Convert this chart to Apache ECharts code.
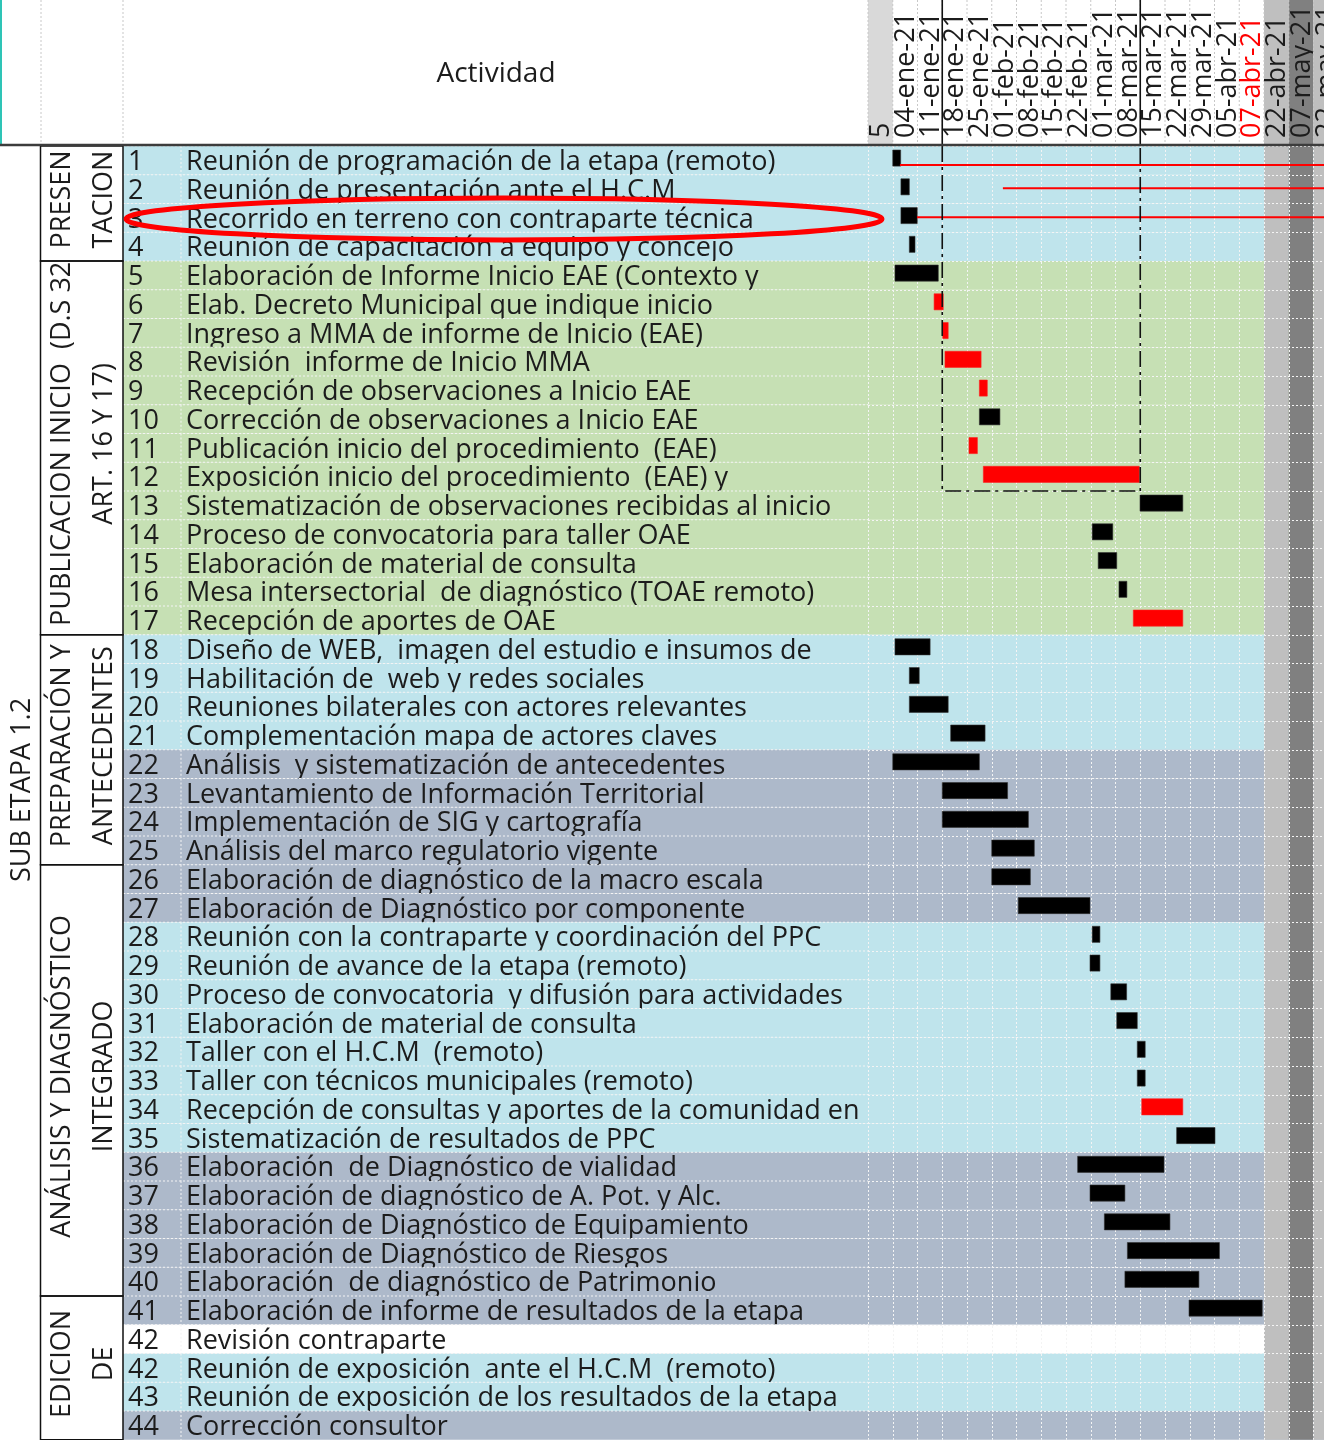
<!DOCTYPE html>
<html>
<head>
<meta charset="utf-8">
<title>Carta Gantt - Sub etapa 1.2</title>
<script src="https://cdn.jsdelivr.net/npm/echarts@6/dist/echarts.min.js"></script>
<style>
html, body { margin: 0; padding: 0; background: #fff; }
#gantt { width: 1324px; height: 1440px; }
</style>
</head>
<body>
<div id="gantt"></div>
<script>
// semanas del encabezado (una columna por semana)
var semanas = ['5', '04-ene-21', '11-ene-21', '18-ene-21', '25-ene-21', '01-feb-21', '08-feb-21',
	'15-feb-21', '22-feb-21', '01-mar-21', '08-mar-21', '15-mar-21', '22-mar-21', '29-mar-21',
	'05-abr-21', '07-abr-21', '22-abr-21', '07-may-21', '22-may-21'];

var numeros = ['1', '2', '3', '4', '5', '6', '7', '8', '9', '10', '11', '12', '13', '14', '15',
	'16', '17', '18', '19', '20', '21', '22', '23', '24', '25', '26', '27', '28', '29', '30',
	'31', '32', '33', '34', '35', '36', '37', '38', '39', '40', '41', '42', '42', '43', '44'];

var actividades = [
	'Reunión de programación de la etapa (remoto)',
	'Reunión de presentación ante el H.C.M',
	'Recorrido en terreno con contraparte técnica',
	'Reunión de capacitación a equipo y concejo',
	'Elaboración de Informe Inicio EAE (Contexto y',
	'Elab. Decreto Municipal que indique inicio',
	'Ingreso a MMA de informe de Inicio (EAE)',
	'Revisión  informe de Inicio MMA',
	'Recepción de observaciones a Inicio EAE',
	'Corrección de observaciones a Inicio EAE',
	'Publicación inicio del procedimiento  (EAE)',
	'Exposición inicio del procedimiento  (EAE) y',
	'Sistematización de observaciones recibidas al inicio',
	'Proceso de convocatoria para taller OAE',
	'Elaboración de material de consulta',
	'Mesa intersectorial  de diagnóstico (TOAE remoto)',
	'Recepción de aportes de OAE',
	'Diseño de WEB,  imagen del estudio e insumos de',
	'Habilitación de  web y redes sociales',
	'Reuniones bilaterales con actores relevantes',
	'Complementación mapa de actores claves',
	'Análisis  y sistematización de antecedentes',
	'Levantamiento de Información Territorial',
	'Implementación de SIG y cartografía',
	'Análisis del marco regulatorio vigente',
	'Elaboración de diagnóstico de la macro escala',
	'Elaboración de Diagnóstico por componente',
	'Reunión con la contraparte y coordinación del PPC',
	'Reunión de avance de la etapa (remoto)',
	'Proceso de convocatoria  y difusión para actividades',
	'Elaboración de material de consulta',
	'Taller con el H.C.M  (remoto)',
	'Taller con técnicos municipales (remoto)',
	'Recepción de consultas y aportes de la comunidad en',
	'Sistematización de resultados de PPC',
	'Elaboración  de Diagnóstico de vialidad',
	'Elaboración de diagnóstico de A. Pot. y Alc.',
	'Elaboración de Diagnóstico de Equipamiento',
	'Elaboración de Diagnóstico de Riesgos',
	'Elaboración  de diagnóstico de Patrimonio',
	'Elaboración de informe de resultados de la etapa',
	'Revisión contraparte',
	'Reunión de exposición  ante el H.C.M  (remoto)',
	'Reunión de exposición de los resultados de la etapa',
	'Corrección consultor'
];

// inicio y fin de cada barra, medido en semanas desde la columna "5"
var inicio = [1.00, 1.33, 1.33, 1.67, 1.09, 2.67, 3.02, 3.11, 4.50, 4.50, 4.08, 4.66, 10.99,
	9.06, 9.30, 10.14, 10.72, 1.09, 1.67, 1.67, 3.34, 1.00, 3.00, 3.00, 5.00, 5.00, 6.07,
	9.06, 8.97, 9.81, 10.05, 10.88, 10.88, 11.06, 12.47, 8.47, 8.97, 9.55, 10.48, 10.38, 12.97,
	null, null, null, null];
var fin = [1.32, 1.67, 1.99, 1.90, 2.84, 3.04, 3.24, 4.57, 4.82, 5.33, 4.42, 10.96, 12.72,
	9.89, 10.05, 10.46, 12.72, 2.51, 2.07, 3.24, 4.73, 4.50, 5.64, 6.48, 6.72, 6.56, 8.97,
	9.37, 9.37, 10.45, 10.88, 11.20, 11.20, 12.72, 14.02, 11.96, 10.38, 12.20, 14.20, 13.37, 15.93,
	null, null, null, null];
// 1 = actividad marcada en rojo
var critica = [0, 0, 0, 0, 0, 1, 1, 1, 1, 0, 1, 1, 0, 0, 0, 0, 1, 0, 0, 0, 0, 0, 0, 0, 0, 0,
	0, 0, 0, 0, 0, 0, 0, 1, 0, 0, 0, 0, 0, 0, 0, 0, 0, 0, 0];

// grupos de la columna izquierda: [desde fila, hasta fila, linea 1, linea 2]
var grupos = [
	[0, 4, 'PRESEN', 'TACION'],
	[4, 17, 'PUBLICACION INICIO  (D.S 32', 'ART. 16 Y 17)'],
	[17, 25, 'PREPARACIÓN Y', 'ANTECEDENTES'],
	[25, 40, 'ANÁLISIS Y DIAGNÓSTICO', 'INTEGRADO'],
	[40, 45, 'EDICION', 'DE']
];

// lineas rojas de seguimiento: [semana inicio, fila]
var flechas = [[1.29, 0.66], [5.45, 1.47], [1.98, 2.48]];
// recuadro punteado: [semana desde, semana hasta, fila hasta]
var recuadro = [[3, 11, 12]];

var FUENTE = '"Open Sans", sans-serif';
var TEXTO = '#1c1c1c';
var NSEM = semanas.length;
var NFILAS = actividades.length;

function colorFila(i) {
	if (i === 41) return '#ffffff';
	if (i >= 4 && i <= 16) return '#c6e0b4';
	if ((i >= 21 && i <= 26) || (i >= 35 && i <= 40) || i === 44) return '#adb9ca';
	return '#bfe4ec';
}

var punteado = { stroke: '#f4f4f4', lineWidth: 1, lineDash: [2, 2] };

var gantt = echarts.init(document.getElementById('gantt'));

var opcion = {
	animation: false,
	backgroundColor: '#ffffff',
	grid: {
		left: 868,
		top: 146,
		width: NSEM * 24.75,
		height: NFILAS * 28.75,
		outerBoundsMode: 'none'
	},
	xAxis: {
		type: 'value',
		min: 0,
		max: NSEM,
		interval: 1,
		z: 3,
		axisLine: { show: false },
		axisTick: { show: false },
		axisLabel: { show: false },
		splitLine: {
			show: true,
			lineStyle: { color: '#f4f4f4', width: 1, type: [2, 2] }
		}
	},
	yAxis: {
		type: 'value',
		inverse: true,
		min: 0,
		max: NFILAS,
		interval: 1,
		z: 3,
		axisLine: { show: false },
		axisTick: { show: false },
		axisLabel: { show: false },
		splitLine: {
			show: true,
			lineStyle: { color: '#f4f4f4', width: 1, type: [2, 2] }
		}
	},
	graphic: [
		// borde turquesa y linea bajo el encabezado
		{ type: 'line', z: 20, shape: { x1: 1, y1: 0, x2: 1, y2: 146 }, style: { stroke: '#2ec4b6', lineWidth: 2 } },
		{ type: 'line', z: 20, shape: { x1: 41, y1: 0, x2: 41, y2: 144 }, style: { stroke: '#c8c8c8', lineWidth: 1, lineDash: [2, 2] } },
		{ type: 'line', z: 20, shape: { x1: 123, y1: 0, x2: 123, y2: 144 }, style: { stroke: '#c8c8c8', lineWidth: 1, lineDash: [2, 2] } },
		{ type: 'line', z: 20, shape: { x1: 0, y1: 145, x2: 1324, y2: 145 }, style: { stroke: '#3c3c3c', lineWidth: 2.5 } },
		{
			type: 'text', z: 20, x: 496, y: 74,
			style: { text: 'Actividad', fontFamily: FUENTE, fontSize: 28, fill: TEXTO, align: 'center', verticalAlign: 'middle' }
		},
		{
			type: 'text', z: 20, x: 22, y: 790, rotation: Math.PI / 2,
			style: { text: 'SUB ETAPA 1.2', fontFamily: FUENTE, fontSize: 27, fill: TEXTO, align: 'center', verticalAlign: 'middle' }
		},
		// elipse roja sobre la actividad 3
		{
			type: 'ellipse', z: 30,
			shape: { cx: 504, cy: 219, rx: 378, ry: 21 },
			style: { fill: 'none', stroke: '#ff0000', lineWidth: 5 }
		}
	],
	series: [{
		// filas: fondo, numero y nombre de la actividad
		type: 'custom',
		name: 'filas',
		z: 1,
		clip: false,
		silent: true,
		data: actividades.map(function (t, i) { return [0, i]; }),
		encode: { x: 0, y: 1 },
		renderItem: function (params, api) {
			var i = api.value(1);
			var arriba = api.coord([0, i])[1];
			var abajo = api.coord([0, i + 1])[1];
			var xFin = api.coord([NSEM, i])[0];
			var h = abajo - arriba;
			var yTexto = arriba + h / 2 + 2;
			return {
				type: 'group',
				children: [
					{ type: 'rect', shape: { x: 123, y: arriba, width: xFin - 123, height: h }, style: { fill: colorFila(i) } },
					{ type: 'line', shape: { x1: 123, y1: arriba, x2: 868, y2: arriba }, style: punteado },
					{ type: 'line', shape: { x1: 181, y1: arriba, x2: 181, y2: abajo }, style: punteado },
					{ type: 'text', x: 128, y: yTexto, style: { text: numeros[i], fontFamily: FUENTE, fontSize: 27, fill: TEXTO, verticalAlign: 'middle' } },
					{ type: 'text', x: 186, y: yTexto, style: { text: actividades[i], fontFamily: FUENTE, fontSize: 27, fill: TEXTO, verticalAlign: 'middle' } }
				]
			};
		}
	}, {
		// columnas grises y encabezado de semanas
		type: 'custom',
		name: 'columnas',
		z: 2,
		clip: false,
		silent: true,
		data: semanas.map(function (s, c) { return [c, 0]; }),
		encode: { x: 0, y: 1 },
		renderItem: function (params, api) {
			var c = api.value(0);
			var x0 = api.coord([c, 0])[0];
			var x1 = api.coord([c + 1, 0])[0];
			var arriba = api.coord([c, 0])[1];
			var abajo = api.coord([c, NFILAS])[1];
			var hijos = [];
			var gris = { 16: '#bfbfbf', 17: '#808080', 18: '#bfbfbf' }[c];
			if (gris) {
				hijos.push({ type: 'rect', shape: { x: x0, y: 0, width: x1 - x0, height: abajo }, style: { fill: gris } });
			} else if (c === 0) {
				hijos.push({ type: 'rect', shape: { x: x0, y: 0, width: x1 - x0, height: arriba }, style: { fill: '#d9d9d9' } });
			}
			hijos.push({ type: 'line', shape: { x1: x0, y1: 0, x2: x0, y2: arriba }, style: { stroke: '#c8c8c8', lineWidth: 1, lineDash: [2, 2] } });
			hijos.push({
				type: 'text', x: (x0 + x1) / 2 + 1, y: arriba - 8, rotation: Math.PI / 2,
				style: {
					text: semanas[c], fontFamily: FUENTE, fontSize: 27,
					fill: semanas[c] === '07-abr-21' ? '#ff0000' : TEXTO,
					align: 'left', verticalAlign: 'middle'
				}
			});
			return { type: 'group', children: hijos };
		}
	}, {
		// grupos de actividades
		type: 'custom',
		name: 'grupos',
		z: 4,
		clip: false,
		silent: true,
		data: grupos.map(function (g) { return [0, g[0], g[1]]; }),
		encode: { x: 0, y: [1, 2] },
		renderItem: function (params, api) {
			var g = grupos[params.dataIndex];
			var arriba = api.coord([0, g[0]])[1];
			var abajo = api.coord([0, g[1]])[1];
			var medio = (arriba + abajo) / 2;
			return {
				type: 'group',
				children: [
					{ type: 'rect', shape: { x: 40.5, y: arriba, width: 82.5, height: abajo - arriba }, style: { fill: 'none', stroke: '#111', lineWidth: 1.5 } },
					{ type: 'text', x: 62, y: medio - 4, rotation: Math.PI / 2, style: { text: g[2], fontFamily: FUENTE, fontSize: 27, fill: TEXTO, align: 'center', verticalAlign: 'middle' } },
					{ type: 'text', x: 104, y: medio - 4, rotation: Math.PI / 2, style: { text: g[3], fontFamily: FUENTE, fontSize: 27, fill: TEXTO, align: 'center', verticalAlign: 'middle' } }
				]
			};
		}
	}, {
		// barras de la carta gantt
		type: 'custom',
		name: 'barras',
		z: 6,
		data: inicio.map(function (v, i) {
			return v === null ? null : [v, fin[i], i, critica[i]];
		}).filter(function (d) { return d !== null; }),
		encode: { x: [0, 1], y: 2 },
		renderItem: function (params, api) {
			var fila = api.value(2);
			var a = api.coord([api.value(0), fila + 0.42]);
			var b = api.coord([api.value(1), fila + 0.42]);
			var alto = api.size([0, 1])[1] * 0.56;
			return {
				type: 'rect',
				shape: { x: a[0], y: a[1] - alto / 2, width: b[0] - a[0], height: alto },
				style: { fill: api.value(3) ? '#ff0000' : '#000000', stroke: api.value(3) ? '#ff2020' : '#333', lineWidth: 0.6 }
			};
		}
	}, {
		// lineas rojas de seguimiento
		type: 'custom',
		name: 'flechas',
		z: 7,
		clip: false,
		data: flechas,
		encode: { x: 0, y: 1 },
		renderItem: function (params, api) {
			var a = api.coord([api.value(0), api.value(1)]);
			var b = api.coord([NSEM, api.value(1)]);
			return {
				type: 'line',
				shape: { x1: a[0], y1: a[1], x2: b[0], y2: b[1] },
				style: { stroke: '#ff0000', lineWidth: 2 }
			};
		}
	}, {
		// recuadro punteado y lineas del encabezado
		type: 'custom',
		name: 'recuadro',
		z: 7,
		clip: false,
		data: recuadro,
		encode: { x: [0, 1], y: 2 },
		renderItem: function (params, api) {
			var p0 = api.coord([api.value(0), 0]);
			var p1 = api.coord([api.value(0), api.value(2)]);
			var p2 = api.coord([api.value(1), api.value(2)]);
			var p3 = api.coord([api.value(1), 0]);
			return {
				type: 'group',
				children: [
					{ type: 'polyline', shape: { points: [p0, p1, p2, p3] }, style: { fill: 'none', stroke: '#111', lineWidth: 1.6, lineDash: [16, 5, 3, 5] } },
					{ type: 'line', shape: { x1: p0[0], y1: 0, x2: p0[0], y2: p0[1] }, style: { stroke: '#111', lineWidth: 1.6 } },
					{ type: 'line', shape: { x1: p3[0], y1: 0, x2: p3[0], y2: p3[1] }, style: { stroke: '#111', lineWidth: 1.6 } }
				]
			};
		}
	}]
};

gantt.setOption(opcion);
</script>
</body>
</html>
